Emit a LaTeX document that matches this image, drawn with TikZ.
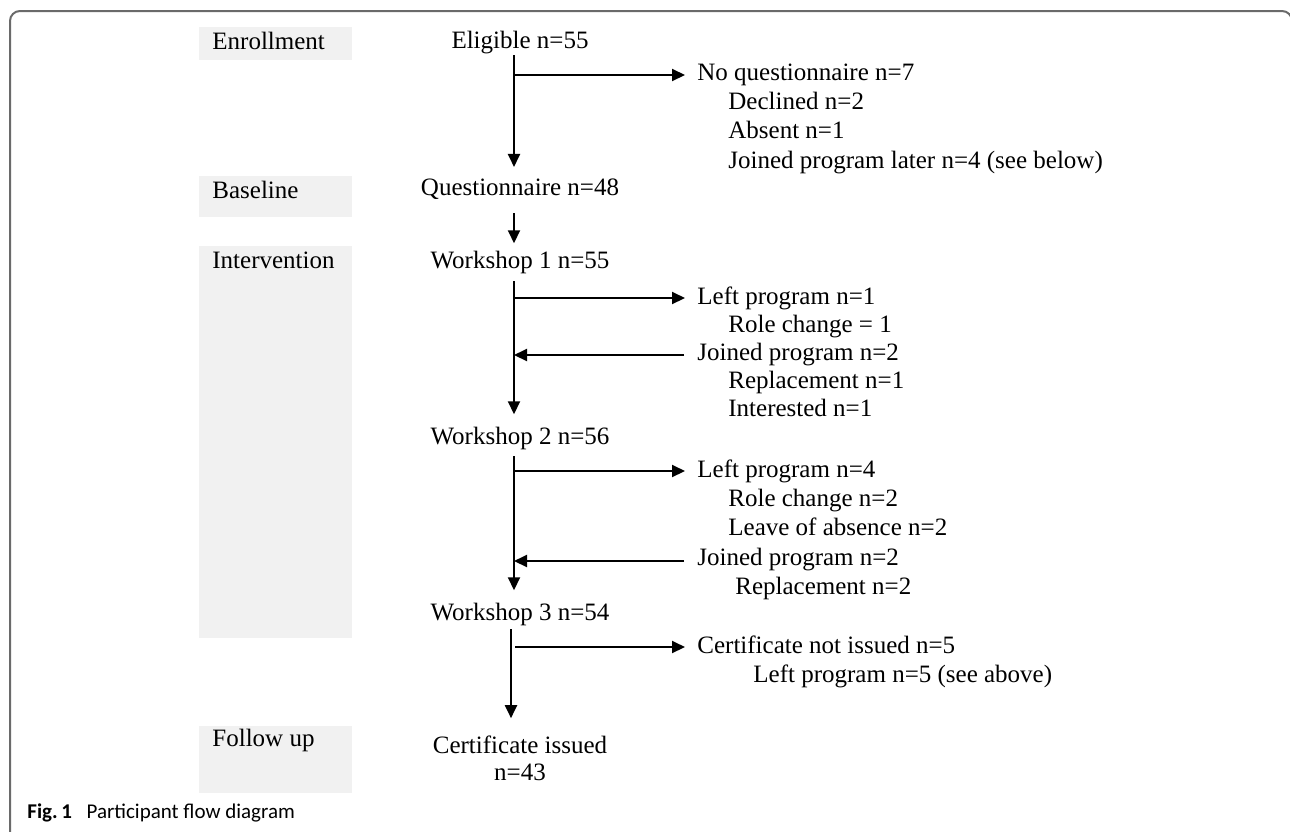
\documentclass[tikz,border=0pt]{standalone}
\usepackage{fontspec}
\setmainfont{Liberation Serif}
\newfontfamily\capfont{Carlito}
\usetikzlibrary{arrows.meta}
\definecolor{boxgray}{HTML}{F1F1F1}
\definecolor{framegray}{HTML}{6A6A6A}
\tikzset{
  lbl/.style={anchor=base west, inner sep=0pt, font=\fontsize{12.5}{14.5}\selectfont},
  ctr/.style={anchor=base, inner sep=0pt, font=\fontsize{12.5}{13.5}\selectfont},
  ctrm/.style={anchor=center, inner sep=0pt, font=\fontsize{12.5}{13.5}\selectfont, align=center},
  stage/.style={fill=boxgray, draw=none},
  arr/.style={line width=1pt, -{Triangle[length=6.5pt,width=6pt]}},
}
\begin{document}
\begin{tikzpicture}[x=0.5pt,y=-0.5pt]
\useasboundingbox (0,0) rectangle (1290,831);
\begin{scope}
\clip (0,0) rectangle (1290,831);
\draw[framegray, line width=1pt, rounded corners=5pt] (10,11) rectangle (1292,845);
\end{scope}
% stage boxes
\fill[stage] (199,27) rectangle (352,60);
\fill[stage] (199,176) rectangle (352,217);
\fill[stage] (199,246) rectangle (352,638);
\fill[stage] (199,726) rectangle (352,793);
\node[lbl] (senr) at (212,49) {Enrollment};
\node[lbl] (sbase) at (212,198) {Baseline};
\node[lbl] (sint) at (212,268) {Intervention};
\node[lbl] (sfol) at (212,746) {Follow up};
% spine coordinates
\coordinate (spine) at (514,0);
\coordinate (spineb) at (511,0);
% centre column
\node[ctr] (elig) at (520,48) {Eligible n=55};
\node[ctr] (quest) at (520,195) {Questionnaire n=48};
\node[ctr] (ws1) at (520,268) {Workshop 1 n=55};
\node[ctr] (ws2) at (520,444) {Workshop 2 n=56};
\node[ctr] (ws3) at (520,620) {Workshop 3 n=54};
\node[ctrm] (cert) at (520,758) {Certificate issued\\n=43};
% right column
\node[lbl] (noq) at (697,80) {No questionnaire n=7};
\node[lbl] (decl) at (728,109) {Declined n=2};
\node[lbl] (abs) at (728,138) {Absent n=1};
\node[lbl] (later) at (728,168) {Joined program later n=4 (see below)};
\node[lbl] (left1) at (697,304) {Left program n=1};
\node[lbl] (role1) at (728,332) {Role change = 1};
\node[lbl] (join1) at (697,360) {Joined program n=2};
\node[lbl] (repl1) at (728,388) {Replacement n=1};
\node[lbl] (inter1) at (728,416) {Interested n=1};
\node[lbl] (left2) at (697,477) {Left program n=4};
\node[lbl] (role2) at (728,506) {Role change n=2};
\node[lbl] (leave2) at (728,535) {Leave of absence n=2};
\node[lbl] (join2) at (697,565) {Joined program n=2};
\node[lbl] (repl2) at (735,594) {Replacement n=2};
\node[lbl] (certno) at (697,653) {Certificate not issued n=5};
\node[lbl] (left5) at (753,682) {Left program n=5 (see above)};
% fixed y-levels of arrows
\coordinate (yq) at (0,75);
\coordinate (yl1) at (0,298);
\coordinate (yj1) at (0,355);
\coordinate (yl2) at (0,471);
\coordinate (yj2) at (0,561);
\coordinate (yc) at (0,647);
% vertical arrows
\draw[arr] ([yshift=-0.8pt]elig.south -| spine) -- ([yshift=5.5pt]quest.north -| spine);
\draw[arr] ([yshift=-7pt]quest.south -| spine) -- ([yshift=3.5pt]ws1.north -| spine);
\draw[arr] ([yshift=-3.8pt]ws1.south -| spine) -- ([yshift=6pt]ws2.north -| spine);
\draw[arr] ([yshift=-3.3pt]ws2.south -| spine) -- ([yshift=6pt]ws3.north -| spine);
\draw[arr] ([yshift=-1.8pt]ws3.south -| spineb) -- ([yshift=8.5pt]cert.north -| spineb);
% branches
\draw[arr, shorten >=6pt] (spine |- yq) -- (noq.west |- yq);
\draw[arr, shorten >=6pt] (spine |- yl1) -- (left1.west |- yl1);
\draw[arr, shorten <=6.5pt] (join1.west |- yj1) -- (spine |- yj1);
\draw[arr, shorten >=6pt] (spine |- yl2) -- (left2.west |- yl2);
\draw[arr, shorten <=6.5pt] (join2.west |- yj2) -- (spine |- yj2);
\draw[arr, shorten <=2pt, shorten >=6pt] (spineb |- yc) -- (certno.west |- yc);
% caption
\node[anchor=west, inner sep=0pt, font=\capfont\fontsize{10.5}{12}\selectfont] (cap) at (27,813) {\textbf{Fig.\,1}\hspace{0.7em}Participant flow diagram};
\end{tikzpicture}
\end{document}
